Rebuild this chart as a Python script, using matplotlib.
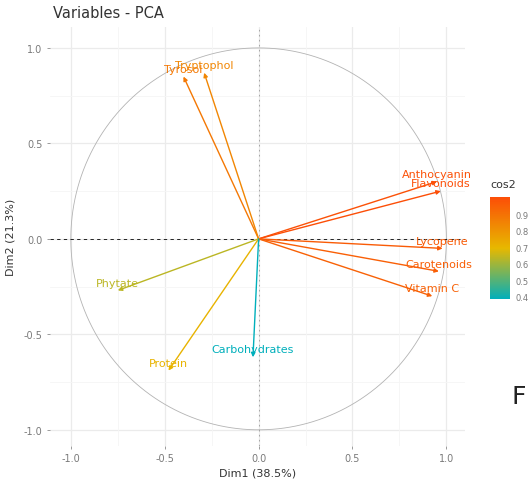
import numpy as np
import matplotlib.pyplot as plt
from matplotlib.colors import LinearSegmentedColormap, Normalize
from matplotlib.colorbar import ColorbarBase

# variable loadings on the first two dimensions
variables = ["Tyrosol", "Tryptophol", "Anthocyanin", "Flavonoids", "Lycopene",
             "Carotenoids", "Vitamin C", "Phytate", "Protein", "Carbohydrates"]
dim1 = [-0.40, -0.29, 0.95, 0.97, 0.98, 0.96, 0.925, -0.75, -0.48, -0.03]
dim2 = [0.85, 0.87, 0.30, 0.25, -0.05, -0.17, -0.30, -0.27, -0.69, -0.62]
axis_ticks = [-1.0, -0.5, 0.0, 0.5, 1.0]
cbar_ticks = [0.4, 0.5, 0.6, 0.7, 0.8, 0.9]

x = np.array(dim1)
y = np.array(dim2)
cos2 = x**2 + y**2

cmap = LinearSegmentedColormap.from_list("cos2", ["#00AFBB", "#E7B800", "#FC4E07"])
norm = Normalize(vmin=cos2.min(), vmax=cos2.max())

fig = plt.figure(figsize=(5.28, 4.81), dpi=100)
ax = fig.add_axes([0.095, 0.071, 0.786, 0.871])

# grid like theme_minimal
for v in axis_ticks:
    ax.axvline(v, color="#EBEBEB", lw=0.9, zorder=0)
    ax.axhline(v, color="#EBEBEB", lw=0.9, zorder=0)
for v in [-0.75, -0.25, 0.25, 0.75]:
    ax.axvline(v, color="#F5F5F5", lw=0.6, zorder=0)
    ax.axhline(v, color="#F5F5F5", lw=0.6, zorder=0)

# correlation circle
t = np.linspace(0, 2 * np.pi, 400)
ax.plot(np.cos(t), np.sin(t), color="#B3B3B3", lw=0.6, zorder=1)
ax.axhline(0, color="black", lw=0.6, ls=(0, (4, 4)), zorder=1)
ax.axvline(0, color="#9A9A9A", lw=0.6, ls=(0, (2, 4)), zorder=1)

for name, xi, yi, c in zip(variables, x, y, cos2):
    col = cmap(norm(c))
    ax.annotate("", xy=(xi, yi), xytext=(0, 0),
                arrowprops=dict(arrowstyle="-|>", color=col, lw=1.0,
                                mutation_scale=6, shrinkA=0, shrinkB=0),
                zorder=3)
    ax.annotate(name, xy=(xi, yi), xytext=(0, 2), textcoords="offset points",
                ha="center", va="bottom", color=col, fontsize=8, zorder=4)

ax.set_xlim(-1.11, 1.10)
ax.set_ylim(-1.084, 1.11)
ax.set_xticks(axis_ticks)
ax.set_yticks(axis_ticks)
ax.set_xticklabels([f"{v:.1f}" for v in axis_ticks])
ax.set_yticklabels([f"{v:.1f}" for v in axis_ticks])
ax.tick_params(colors="#8C8C8C", labelsize=7, length=2, width=0.6,
               labelcolor="#7A7A7A")
for s in ax.spines.values():
    s.set_visible(False)

ax.set_xlabel("Dim1 (38.5%)", fontsize=8, color="#333333", labelpad=3)
ax.set_ylabel("Dim2 (21.3%)", fontsize=8, color="#333333", labelpad=6)
fig.text(0.1, 0.972, "Variables - PCA", fontsize=10.5, color="#333333",
         ha="left", va="center")

# cos2 colour legend
cax = fig.add_axes([0.928, 0.376, 0.038, 0.212])
cb = ColorbarBase(cax, cmap=cmap, norm=norm, ticks=cbar_ticks)
cb.outline.set_visible(False)
cb.ax.tick_params(labelsize=6, labelcolor="#7A7A7A", color="white",
                  length=3, pad=1)
cb.ax.set_yticklabels([f"{v:.1f}" for v in cbar_ticks])
fig.text(0.928, 0.615, "cos2", fontsize=8, color="#333333", ha="left", va="center")

fig.text(0.968, 0.175, "F", fontsize=18, color="#222222", ha="left", va="center")

fig.savefig("out.png", dpi=100)
